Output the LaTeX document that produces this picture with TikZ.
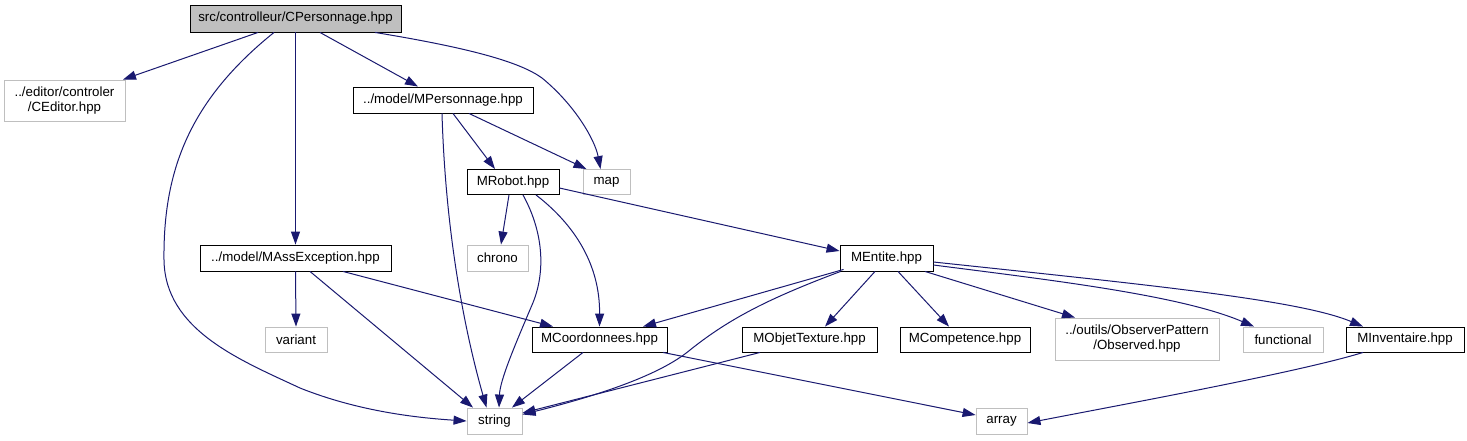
\documentclass[tikz,border=0pt]{standalone}
\usepackage{fontspec}
\setmainfont{Liberation Sans}
\usetikzlibrary{arrows.meta}
\definecolor{edgeblue}{HTML}{191970}
\definecolor{softgray}{HTML}{BFBFBF}
\definecolor{rootgray}{HTML}{BFBFBF}
\begin{document}
\begin{tikzpicture}[x=1pt,y=-1pt,
  box/.style={inner sep=0pt, line width=0.9pt, fill=white, text=black, align=center,
     font=\fontsize{13.3}{15}\selectfont},
  docbox/.style={box, draw=black},
  extbox/.style={box, draw=softgray},
  rootbox/.style={box, draw=black, fill=rootgray},
  dep/.style={draw=edgeblue, line width=1pt, -{Triangle[length=13pt,width=9pt,fill=edgeblue]}}
]
\fill[white] (0,0) rectangle (1467,440);
\useasboundingbox (0,0) rectangle (1467,440);

% nodes
\node[rootbox, minimum width=211pt, minimum height=27pt] (root) at (295.5,18.5) {src/controlleur/CPersonnage.hpp};
\node[extbox, minimum width=121pt, minimum height=41pt] (ceditor) at (64.5,100.5) {../editor/controler\\/CEditor.hpp};
\node[docbox, minimum width=180pt, minimum height=26pt] (mperso) at (443,100) {../model/MPersonnage.hpp};
\node[docbox, minimum width=92pt, minimum height=25pt] (mrobot) at (513,182) {MRobot.hpp};
\node[extbox, minimum width=47pt, minimum height=25pt] (map) at (606.5,182) {map};
\node[docbox, minimum width=191pt, minimum height=26pt] (massexc) at (295.5,258) {../model/MAssException.hpp};
\node[extbox, minimum width=61pt, minimum height=26pt] (chrono) at (497.5,258) {chrono};
\node[docbox, minimum width=93pt, minimum height=26pt] (mentite) at (886.5,258) {MEntite.hpp};
\node[extbox, minimum width=62pt, minimum height=25pt] (variant) at (296,339.5) {variant};
\node[docbox, minimum width=135pt, minimum height=25pt] (mcoord) at (599.5,339.5) {MCoordonnees.hpp};
\node[docbox, minimum width=135pt, minimum height=25pt] (mobjet) at (809.5,339.5) {MObjetTexture.hpp};
\node[docbox, minimum width=130pt, minimum height=25pt] (mcomp) at (965,339.5) {MCompetence.hpp};
\node[extbox, minimum width=164pt, minimum height=42pt] (observed) at (1137,339) {../outils/ObserverPattern\\/Observed.hpp};
\node[extbox, minimum width=80pt, minimum height=25pt] (functional) at (1283,339.5) {functional};
\node[docbox, minimum width=118pt, minimum height=25pt] (minv) at (1405,339.5) {MInventaire.hpp};
\node[extbox, minimum width=55pt, minimum height=26pt] (string) at (494.5,421) {string};
\node[extbox, minimum width=51pt, minimum height=26pt] (array) at (1001.5,421) {array};

% edges from root
\draw[dep] ([xshift=-37.5pt]root.south) -- ([xshift=58.5pt]ceditor.north);
\draw[dep] ([xshift=-21.5pt]root.south) .. controls (190,100) and (163,170) .. (164,260)
   .. controls (165,330) and (240,360) .. (300,388)
   .. controls (360,412) and (420,418) .. (string.west);
\draw[dep] (root.south) -- (massexc.north);
\draw[dep] ([xshift=24.5pt]root.south) -- ([xshift=-25pt]mperso.north);
\draw[dep] ([xshift=79.5pt]root.south) .. controls (470,48) and (520,62) .. (542,78)
   .. controls (575,105) and (595,140) .. ([xshift=-6pt]map.north);

% edges from MPersonnage
\draw[dep] ([xshift=26pt]mperso.south) -- ([xshift=-20pt]map.north);
\draw[dep] ([xshift=10pt]mperso.south) -- ([xshift=-18pt]mrobot.north);
\draw[dep] ([xshift=-1pt]mperso.south) .. controls (446,250) and (470,350) .. ([xshift=-8pt]string.north);

% edges from MRobot
\draw[dep] ([xshift=-4pt]mrobot.south) -- ([xshift=3.5pt]chrono.north);
\draw[dep] ([xshift=10pt]mrobot.south) .. controls (545,235) and (545,275) .. (532,305)
   .. controls (515,345) and (500,380) .. ([xshift=4.5pt]string.north);
\draw[dep] ([xshift=23pt]mrobot.south) .. controls (575,225) and (600,265) .. (mcoord.north);
\draw[dep] ([yshift=-6pt]mrobot.east) -- ([yshift=7pt]mentite.west);

% edges from MAssException
\draw[dep] (massexc.south) -- (variant.north);
\draw[dep] ([xshift=14.5pt]massexc.south) -- ([xshift=-21.5pt]string.north);
\draw[dep] ([xshift=47.5pt]massexc.south) -- ([xshift=-46.5pt]mcoord.north);

% edges from MCoordonnees / MObjetTexture
\draw[dep] ([xshift=-16.5pt]mcoord.south) -- ([xshift=17.5pt]string.north);
\draw[dep] ([xshift=63.5pt]mcoord.south) -- ([yshift=6pt]array.west);
\draw[dep] ([xshift=-49.5pt]mobjet.south) -- ([yshift=8pt]string.east);

% edges from MEntite
\draw[dep] ([xshift=1pt]mentite.south west) .. controls (770,298) and (730,318) .. (690,350)
   .. controls (660,375) and (600,395) .. ([yshift=6.5pt]string.east);
\draw[dep] ([xshift=4pt,yshift=2pt]mentite.south west) -- ([xshift=43.5pt]mcoord.north);
\draw[dep] ([xshift=-11.5pt]mentite.south) -- ([xshift=15.5pt]mobjet.north);
\draw[dep] ([xshift=11.5pt]mentite.south) -- ([xshift=-16pt]mcomp.north);
\draw[dep] ([xshift=38.5pt]mentite.south) -- ([xshift=-62pt]observed.north);
\draw[dep] ([yshift=-7pt]mentite.east) .. controls (1050,280) and (1180,295) .. ([xshift=-29pt]functional.north);
\draw[dep] ([yshift=-4pt]mentite.east) .. controls (1150,285) and (1300,300) .. ([xshift=-42pt]minv.north);

% edge from MInventaire
\draw[dep] ([xshift=-42pt]minv.south) .. controls (1300,372) and (1120,405) .. ([yshift=-2pt]array.east);
\end{tikzpicture}
\end{document}
